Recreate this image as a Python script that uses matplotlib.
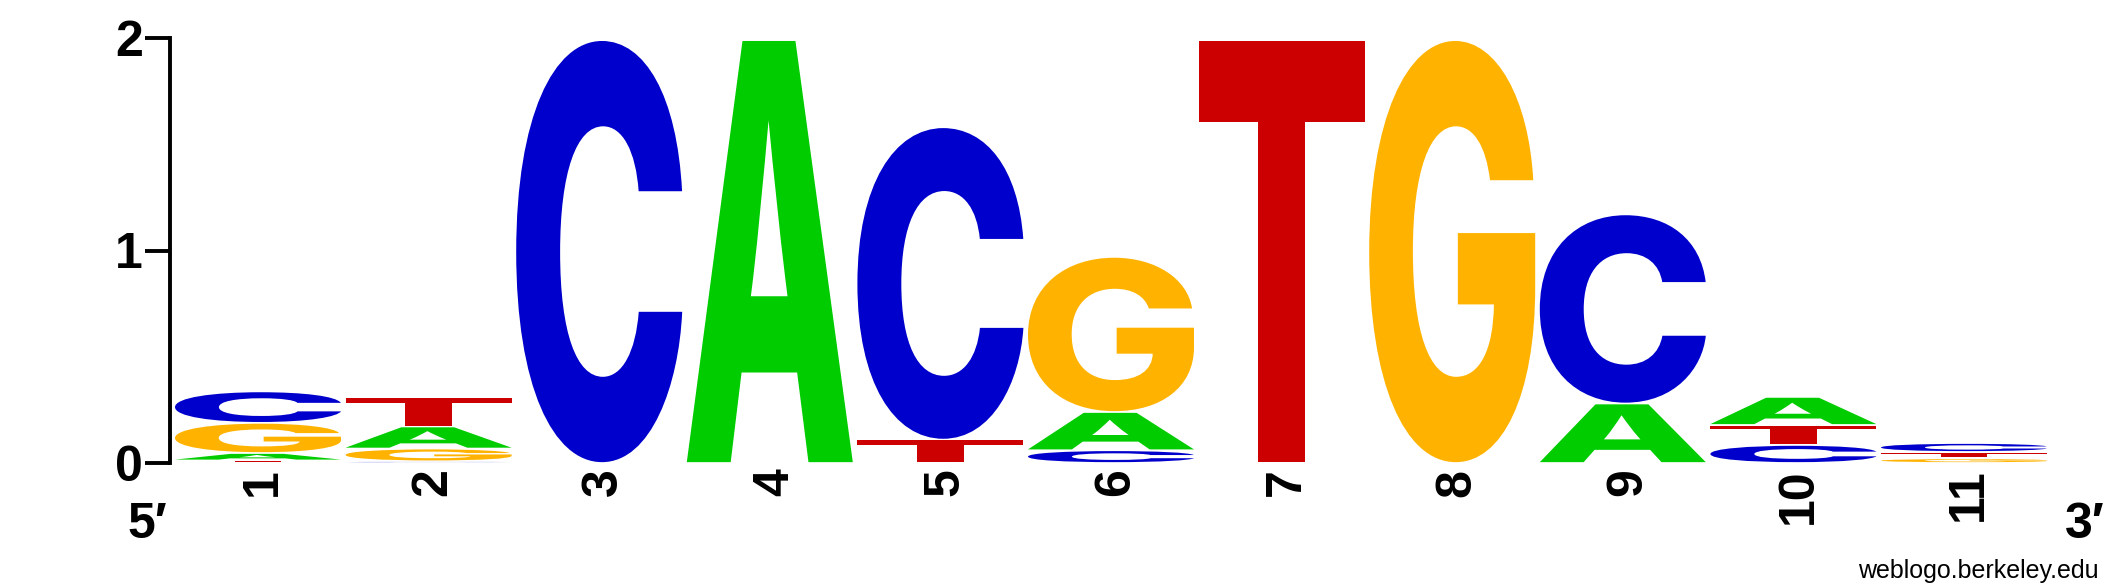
import matplotlib as mpl
mpl.use('Agg')
import matplotlib.pyplot as plt
from matplotlib.textpath import TextPath
from matplotlib.patches import PathPatch
from matplotlib.font_manager import FontProperties
from matplotlib.transforms import Affine2D, ScaledTranslation, blended_transform_factory

# Donnees : hauteur (bits) de chaque lettre par position
positions = [1, 2, 3, 4, 5, 6, 7, 8, 9, 10, 11]
heights_A = [0.035, 0.104, 0.0, 1.99, 0.0, 0.18, 0.0, 0.0, 0.28, 0.132, 0.0]
heights_C = [0.148, 0.008, 1.99, 0.0, 1.47, 0.06, 0.0, 0.0, 0.89, 0.085, 0.042]
heights_G = [0.142, 0.060, 0.0, 0.0, 0.0, 0.73, 0.0, 1.99, 0.0, 0.0, 0.022]
heights_T = [0.012, 0.139, 0.0, 0.0, 0.11, 0.0, 1.99, 0.0, 0.0, 0.094, 0.030]
y_ticks = [0, 1, 2]

couleurs = {'A': '#00cc00', 'C': '#0000cc', 'G': '#ffb300', 'T': '#cc0000'}

police = FontProperties(family='Liberation Sans', weight='bold')
police_lettres = FontProperties(family='Inter', weight=800)

W, H = 2125, 588
fig = plt.figure(figsize=(W / 100, H / 100), dpi=100)

# Axe positionne au pixel pres
px_left, px_right = 170, 2052
px_zero, px_two = 463, 38
ax = fig.add_axes([px_left / W, (H - px_zero) / H,
                   (px_right - px_left) / W, (px_zero - px_two) / H])
pitch = 170.6
ax.set_xlim(1 - 88 / pitch, 1 + (px_right - 258) / pitch)
ax.set_ylim(0, 2)

largeur = 0.973
marge = 0.004  # petit espace entre les lettres


def tracer_lettre(lettre, x, y, w, h):
    h2 = h - 2 * marge
    if h2 <= 0.001:
        h2 = 0.001
    tp = TextPath((0, 0), lettre, size=1, prop=police_lettres)
    bb = tp.get_extents()
    t = Affine2D().translate(-bb.x0, -bb.y0).scale(w / bb.width, h2 / bb.height)
    t = t.translate(x - w / 2, y + marge)
    ax.add_patch(PathPatch(t.transform_path(tp), facecolor=couleurs[lettre],
                           edgecolor='none', lw=0, clip_on=False))


for i, pos in enumerate(positions):
    pile = [('A', heights_A[i]), ('C', heights_C[i]),
            ('G', heights_G[i]), ('T', heights_T[i])]
    pile = sorted([p for p in pile if p[1] > 0], key=lambda p: p[1])
    y = 0
    for lettre, h in pile:
        tracer_lettre(lettre, pos, y, largeur, h)
        y += h

# Axes
for s in ['top', 'right', 'bottom']:
    ax.spines[s].set_visible(False)
ax.spines['left'].set_linewidth(2.8)
ax.spines['left'].set_capstyle('projecting')
ax.set_yticks(y_ticks)
ax.set_yticklabels([str(v) for v in y_ticks], fontproperties=police, fontsize=36)
ax.tick_params(axis='y', length=18, width=2.8, pad=1.5, direction='out')
ax.set_xticks([])
ax.patch.set_visible(False)

# Numeros de position, tournes
trans = blended_transform_factory(ax.transData, ax.transAxes) + \
    ScaledTranslation(3.6 / 72, -4 / 72, fig.dpi_scale_trans)
for pos in positions:
    ax.text(pos, 0, str(pos), transform=trans, fontproperties=police, fontsize=36,
            rotation=90, ha='center', va='top')

fig.text(127 / W, (H - 538) / H, '5\u2032', fontproperties=police, fontsize=36,
         ha='left', va='baseline')
fig.text(2065 / W, (H - 538) / H, '3\u2032', fontproperties=police, fontsize=36,
         ha='left', va='baseline')
fig.text(2099 / W, (H - 578) / H, 'weblogo.berkeley.edu', family='Liberation Sans',
         fontsize=18, ha='right', va='baseline')

fig.savefig('out.png', dpi=100, facecolor='white')
